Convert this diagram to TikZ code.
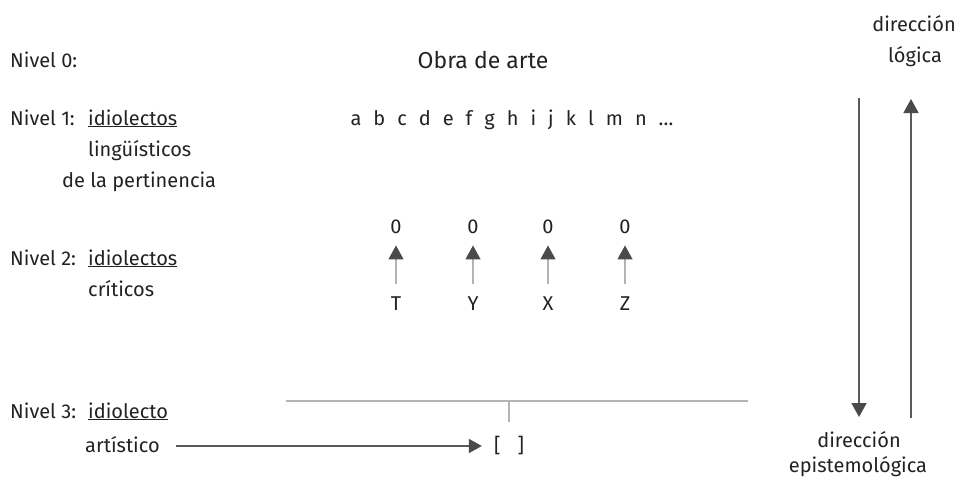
\documentclass[tikz,border=0pt]{standalone}
\usepackage{fontspec}
\setmainfont{Fira Sans}
\usetikzlibrary{arrows.meta}
\definecolor{txt}{HTML}{222222}
\definecolor{head}{HTML}{4A4A4A}
\definecolor{thin}{HTML}{B4B4B4}
\definecolor{mid}{HTML}{5A5A5A}
\begin{document}
\begin{tikzpicture}[x=1pt,y=-1pt,
  lbl/.style={anchor=base west,inner sep=0pt,text=txt,font=\fontsize{20}{24}\selectfont},
  ctr/.style={anchor=base,inner sep=0pt,text=txt,font=\fontsize{20}{24}\selectfont},
  up/.style={draw=thin,line width=1.2pt,-{Triangle[length=14pt,width=15pt,color=head]}},
  big/.style={draw=mid,line width=1.6pt,-{Triangle[length=14pt,width=15pt,color=head]}},
  hline/.style={draw=thin,line width=1.2pt}]
\useasboundingbox (0,0) rectangle (961,487);
% left labels
\node[lbl] (n0) at (10,67) {Nivel 0:};
\node[lbl] (n1) at (10,125) {Nivel 1:};
\node[lbl] (n1a) at (88,125) {\underline{idiolectos}};
\node[lbl] (n1b) at (88,156) {lingüísticos};
\node[lbl] (n1c) at (62,187) {de la pertinencia};
\node[lbl] (n2) at (10,265) {Nivel 2:};
\node[lbl] (n2a) at (88,265) {\underline{idiolectos}};
\node[lbl] (n2b) at (88,296) {críticos};
\node[lbl] (n3) at (10,418) {Nivel 3:};
\node[lbl] (n3a) at (88,418) {\underline{idiolecto}};
\node[lbl] (n3b) at (85,452) {artístico};
% centre
\node[ctr,font=\fontsize{23}{27}\selectfont] (obra) at (483,68) {Obra de arte};
\node[ctr] (letters) at (512,125) {\spaceskip=12pt a b c d e f g h i j k l m n \dots};
\foreach \x/\l/\n in {396/T/1,473/Y/2,548/X/3,625/Z/4}{
  \node[ctr] (o\n) at (\x,233) {0};
  \node[ctr] (t\n) at (\x,310) {\l};
  \draw[up] ([yshift=12pt]t\n.north) -- ([yshift=-12pt]o\n.south);
}
% level 3
\node[ctr] (br) at (509,452) {[\hspace{17pt}]};
\coordinate (hl) at (286,401);
\coordinate (hr) at (748,401);
\coordinate (tk) at (509,422);
\coordinate (tt) at (509,401);
\draw[hline] (hl) -- (hr);
\draw[hline] (tt) -- (tk);
\coordinate (as) at ([xshift=16pt,yshift=6pt]n3b.base east);
\draw[draw=mid,line width=1.6pt,shorten >=12pt,-{Triangle[length=13pt,width=14pt,color=head]}] (as) -- (as -| br.west);
% right side
\node[ctr] (dl1) at (914,32) {dirección};
\node[ctr] (dl2) at (915,63) {lógica};
\node[ctr] (de1) at (859,447) {dirección};
\node[ctr] (de2) at (858,472) {epistemológica};
\coordinate (dtop) at (859,98);
\coordinate (dbot) at (859,417);
\coordinate (utop) at (911,99);
\coordinate (ubot) at (911,418);
\draw[big] (dtop) -- (dbot);
\draw[big] (ubot) -- (utop);
\end{tikzpicture}
\end{document}
